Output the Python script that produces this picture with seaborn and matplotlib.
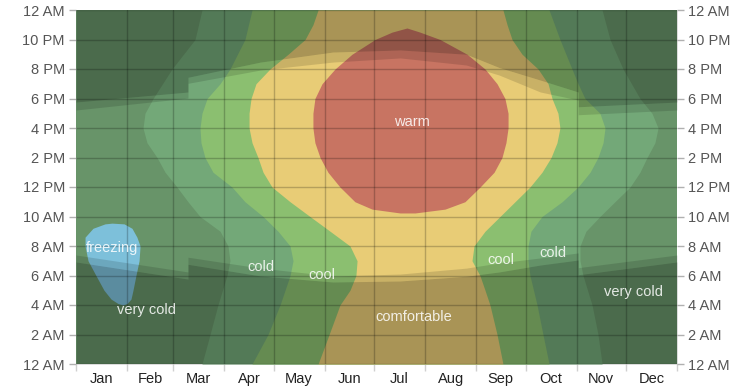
import numpy as np
import matplotlib
matplotlib.use("Agg")
import matplotlib.pyplot as plt
import seaborn as sns

# ------------------------------
# Axis labels
# ------------------------------
months = ["Jan", "Feb", "Mar", "Apr", "May", "Jun",
          "Jul", "Aug", "Sep", "Oct", "Nov", "Dec"]
month_days = [31, 28, 31, 30, 31, 30, 31, 31, 30, 31, 30, 31]
hour_labels = ["12 AM", "2 AM", "4 AM", "6 AM", "8 AM", "10 AM", "12 PM",
               "2 PM", "4 PM", "6 PM", "8 PM", "10 PM", "12 AM"]

# ------------------------------
# Temperature bands: for each hour of day, first / last day of year in band
# ------------------------------
cold_hours = [0, 2, 4, 6, 7, 8, 9, 10, 11, 12, 13, 14, 15, 16, 17, 18, 20, 22, 24]
cold_start = [76.5, 81.4, 86.2, 91.7, 93.5, 92.3, 87.5, 75.3, 68.0, 61.3, 54.1,
              49.2, 43.1, 40.7, 41.9, 46.8, 58.3, 72.3, 76.5]
cold_end = [319.5, 317.0, 313.4, 307.9, 306.1, 306.1, 309.7, 318.2, 327.3, 336.5,
            342.5, 346.8, 351.6, 353.5, 349.8, 342.5, 332.2, 324.3, 319.5]

cool_hours = [0, 2, 4, 6, 7, 8, 9, 10, 11, 12, 13, 14, 15, 16, 17, 18, 19, 20, 22, 24]
cool_start = [106.9, 116.6, 123.9, 130.0, 131.8, 130.0, 122.7, 113.6, 102.6, 94.7,
              83.2, 78.3, 75.9, 75.3, 76.5, 79.6, 87.5, 93.5, 102.6, 106.9]
cool_end = [287.3, 283.6, 280.0, 275.7, 274.5, 274.5, 276.3, 283.0, 295.2, 304.9,
            312.2, 317.0, 320.1, 321.3, 318.2, 309.1, 304.9, 301.2, 293.9, 287.3]

comf_hours = [0, 2, 4, 5, 6, 7, 8, 9, 10, 11, 12, 13, 14, 15, 16, 17, 18, 19, 20,
              21, 22, 23, 24]
comf_start = [147.0, 153.7, 160.3, 166.4, 170.0, 170.7, 166.4, 154.3, 142.1, 130.0,
              119.0, 113.6, 110.5, 106.9, 105.1, 105.1, 106.3, 109.3, 117.8, 128.8,
              139.1, 143.9, 147.0]
comf_end = [259.3, 255.7, 251.4, 248.4, 245.3, 240.5, 241.7, 248.4, 257.5, 266.6,
            275.7, 283.0, 288.5, 292.1, 293.9, 292.7, 289.1, 286.7, 280.6, 270.9,
            264.8, 261.8, 259.3]

warm_hours = [10.24, 10.5, 11, 12, 13, 14, 15, 16, 17, 18, 19, 20, 21, 22, 22.5, 22.78]
warm_start = [196.8, 179.8, 169.4, 160.3, 153.0, 148.2, 145.1, 143.9, 143.9, 145.1,
              149.4, 157.3, 167.6, 181.6, 191.9, 201.0]
warm_end = [205.9, 224.1, 236.2, 245.4, 253.9, 258.7, 261.1, 262.4, 262.4, 260.5,
            255.7, 248.4, 237.5, 221.1, 208.9, 201.0]

freezing_hours = [4.0, 4.1, 4.4, 5.0, 6.0, 7.0, 8.0, 8.6, 9.2, 9.5, 9.55]
freezing_start = [28.5, 25.5, 21.3, 17.0, 12.1, 7.3, 5.5, 5.5, 10.3, 17.6, 21.9]
freezing_end = [28.5, 31.0, 33.4, 34.6, 36.4, 38.3, 38.9, 37.0, 34.0, 29.2, 21.9]

# ------------------------------
# Daylight (hours), with daylight saving steps
# ------------------------------
sun_days = [0, 68, 68, 112, 156, 197, 237, 257, 282, 305, 305, 365]
sunrise = [7.39, 6.24, 7.24, 6.50, 5.97, 6.10, 6.50, 6.85, 7.19, 7.53, 6.53, 7.39]
dawn = [6.92, 5.76, 6.76, 5.97, 5.56, 5.63, 5.95, 6.24, 6.71, 7.05, 6.05, 6.92]
sunset = [17.22, 18.03, 19.03, 19.93, 20.47, 20.75, 20.27, 19.59, 18.44, 17.90,
          16.90, 17.22]
dusk = [17.76, 18.44, 19.44, 20.47, 21.15, 21.29, 21.00, 20.10, 19.25, 18.44,
        17.44, 17.76]

band_labels = ["freezing", "very cold", "cold", "cool", "warm", "comfortable",
               "cool", "cold", "very cold"]
label_days = [21.9, 43.1, 112.4, 149.4, 204.1, 205.3, 258.1, 289.7, 338.3]
label_hours = [7.86, 3.66, 6.58, 6.03, 16.4, 3.19, 7.05, 7.53, 4.88]

colors = {
    "very cold": "#689469",
    "cold": "#73a878",
    "cool": "#8bbf70",
    "comfortable": "#e8cc76",
    "warm": "#c87462",
    "freezing": "#7dc0da",
}

# ------------------------------
# Plot
# ------------------------------
sns.set_theme(style="white")
plt.rcParams["font.family"] = ["Liberation Sans", "DejaVu Sans"]

fig = plt.figure(figsize=(7.53, 3.87), dpi=100)
ax = fig.add_axes([76 / 753, 23 / 387, 601 / 753, 354 / 387])
ax.set_xlim(0, 365)
ax.set_ylim(0, 24)
ax.set_facecolor(colors["very cold"])

ax.fill_betweenx(cold_hours, cold_start, cold_end, color=colors["cold"], lw=0)
ax.fill_betweenx(cool_hours, cool_start, cool_end, color=colors["cool"], lw=0)
ax.fill_betweenx(comf_hours, comf_start, comf_end, color=colors["comfortable"], lw=0)
ax.fill_betweenx(warm_hours, warm_start, warm_end, color=colors["warm"], lw=0)
ax.fill_betweenx(freezing_hours, freezing_start, freezing_end,
                 color=colors["freezing"], lw=0)

# night and twilight shading
ax.fill_between(sun_days, dusk, 24, color="black", alpha=0.27, lw=0)
ax.fill_between(sun_days, sunset, dusk, color="black", alpha=0.13, lw=0)
ax.fill_between(sun_days, 0, dawn, color="black", alpha=0.27, lw=0)
ax.fill_between(sun_days, dawn, sunrise, color="black", alpha=0.13, lw=0)

# grid
bounds = np.concatenate([[0], np.cumsum(month_days)])
for b in bounds[1:-1]:
    ax.axvline(b, color="black", alpha=0.22, lw=1)
for h in range(0, 25, 2):
    ax.axhline(h, color="black", alpha=0.22, lw=1)

for txt, d, h in zip(band_labels, label_days, label_hours):
    ax.text(d, h, txt, ha="center", va="center", fontsize=10.5,
            color="white", alpha=0.85)

# ticks
ax.set_yticks(range(0, 25, 2))
ax.set_yticklabels(hour_labels)
ax.tick_params(axis="y", left=True, right=True, labelleft=True, labelright=True,
               length=5, width=1, color="#b0b0b0", labelcolor="#555555",
               labelsize=10.5, pad=3)
mids = (bounds[:-1] + bounds[1:]) / 2
ax.set_xticks(mids)
ax.set_xticklabels(months)
ax.set_xticks(bounds, minor=True)
ax.tick_params(axis="x", which="major", length=0, labelsize=10.5,
               labelcolor="#222222", pad=6)
ax.tick_params(axis="x", which="minor", bottom=True, length=5, width=1,
               color="#d0d0d0")
sns.despine(ax=ax, left=True, bottom=True, right=True, top=True)

fig.savefig("out.png", dpi=100)
